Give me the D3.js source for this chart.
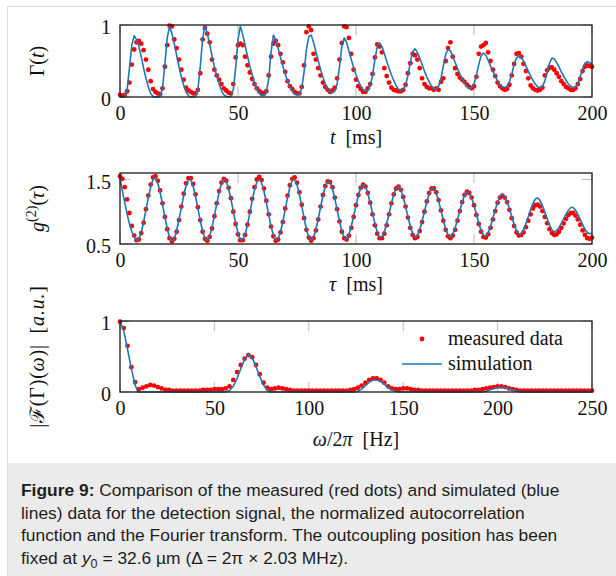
<!DOCTYPE html>
<html>
<head>
<meta charset="utf-8">
<script src="https://cdn.jsdelivr.net/npm/d3@7/dist/d3.min.js"></script>
<style>
  body { margin: 0; background: #fff; }
  svg { display: block; }
  .serif { font-family: "Liberation Serif", "Times New Roman", serif; fill: #111; }
  .cap { font-family: "Liberation Sans", Arial, sans-serif; fill: #1e1e1e; }
</style>
</head>
<body>
<svg id="fig" width="616" height="576"></svg>
<script>
// ---- data ----
// Gamma(t): one sample per ms, t = 0..200
var gammaMeas = [
  0.03, 0.02, 0.03, 0.08, 0.2, 0.45, 0.66, 0.76, 0.78, 0.74,
  0.65, 0.52, 0.38, 0.22, 0.11, 0.07, 0.05, 0.04, 0.12, 0.42,
  0.72, 0.99, 0.98, 0.8, 0.68, 0.52, 0.38, 0.24, 0.13, 0.09,
  0.07, 0.05, 0.05, 0.1, 0.33, 0.8, 0.96, 0.88, 0.76, 0.52,
  0.38, 0.3, 0.24, 0.18, 0.12, 0.09, 0.06, 0.05, 0.18, 0.55,
  0.72, 0.74, 0.72, 0.56, 0.44, 0.34, 0.25, 0.18, 0.12, 0.08,
  0.06, 0.05, 0.08, 0.3, 0.56, 0.74, 0.78, 0.72, 0.6, 0.48,
  0.35, 0.22, 0.15, 0.11, 0.07, 0.05, 0.05, 0.14, 0.44, 0.9,
  0.98, 0.93, 0.6, 0.52, 0.4, 0.3, 0.2, 0.14, 0.1, 0.07,
  0.09, 0.13, 0.26, 0.52, 0.75, 0.98, 0.97, 0.82, 0.6, 0.38,
  0.24, 0.15, 0.11, 0.07, 0.07, 0.12, 0.18, 0.32, 0.55, 0.73,
  0.7, 0.62, 0.4, 0.29, 0.2, 0.13, 0.1, 0.09, 0.08, 0.08,
  0.1, 0.17, 0.33, 0.47, 0.6, 0.58, 0.52, 0.4, 0.26, 0.18,
  0.14, 0.12, 0.12, 0.1, 0.12, 0.1, 0.21, 0.26, 0.5, 0.68,
  0.76, 0.56, 0.4, 0.32, 0.27, 0.24, 0.21, 0.17, 0.14, 0.12,
  0.15, 0.28, 0.6, 0.7, 0.72, 0.75, 0.62, 0.5, 0.38, 0.29,
  0.2, 0.15, 0.12, 0.1, 0.11, 0.17, 0.3, 0.46, 0.6, 0.61,
  0.56, 0.46, 0.36, 0.26, 0.16, 0.12, 0.1, 0.09, 0.1, 0.13,
  0.3, 0.37, 0.41, 0.41, 0.38, 0.33, 0.28, 0.22, 0.18, 0.14,
  0.12, 0.1, 0.1, 0.12, 0.18, 0.25, 0.36, 0.42, 0.44, 0.43,
  0.42
];
var gammaSim = [
  0, 0, 0.01, 0.1, 0.4, 0.72, 0.85, 0.8, 0.7, 0.56,
  0.4, 0.26, 0.14, 0.05, 0.01, 0, 0, 0.01, 0.12, 0.45,
  0.82, 0.98, 0.88, 0.74, 0.58, 0.42, 0.28, 0.16, 0.07, 0.02,
  0, 0, 0.01, 0.1, 0.42, 0.8, 0.99, 0.88, 0.73, 0.57,
  0.42, 0.29, 0.18, 0.09, 0.03, 0.01, 0, 0.01, 0.1, 0.4,
  0.8, 0.98, 0.87, 0.72, 0.57, 0.43, 0.31, 0.2, 0.11, 0.05,
  0.02, 0.02, 0.06, 0.25, 0.62, 0.86, 0.8, 0.68, 0.55, 0.43,
  0.32, 0.22, 0.14, 0.08, 0.04, 0.03, 0.04, 0.12, 0.35, 0.66,
  0.84, 0.86, 0.76, 0.63, 0.5, 0.38, 0.27, 0.18, 0.11, 0.07,
  0.06, 0.08, 0.18, 0.42, 0.7, 0.82, 0.76, 0.64, 0.52, 0.41,
  0.31, 0.22, 0.15, 0.1, 0.08, 0.09, 0.15, 0.3, 0.52, 0.7,
  0.75, 0.7, 0.6, 0.5, 0.4, 0.31, 0.23, 0.16, 0.11, 0.09,
  0.1, 0.16, 0.3, 0.48, 0.63, 0.67, 0.62, 0.54, 0.45, 0.36,
  0.28, 0.21, 0.15, 0.11, 0.11, 0.15, 0.26, 0.43, 0.59, 0.66,
  0.64, 0.57, 0.48, 0.4, 0.32, 0.25, 0.19, 0.14, 0.12, 0.13,
  0.18, 0.3, 0.45, 0.57, 0.61, 0.58, 0.51, 0.43, 0.36, 0.29,
  0.22, 0.17, 0.14, 0.13, 0.15, 0.21, 0.32, 0.45, 0.54, 0.57,
  0.55, 0.5, 0.43, 0.36, 0.29, 0.23, 0.18, 0.14, 0.13, 0.15,
  0.22, 0.34, 0.47, 0.54, 0.53, 0.48, 0.42, 0.35, 0.29, 0.23,
  0.18, 0.15, 0.13, 0.14, 0.19, 0.28, 0.39, 0.47, 0.49, 0.48,
  0.45
];

// g2(tau): one sample per ms, tau = 0..200
var g2Meas = [
  1.55, 1.51, 1.38, 1.19, 0.98, 0.78, 0.63, 0.56, 0.57, 0.67,
  0.83, 1.04, 1.25, 1.42, 1.53, 1.55, 1.48, 1.33, 1.13, 0.92,
  0.73, 0.59, 0.54, 0.58, 0.69, 0.87, 1.08, 1.28, 1.44, 1.52,
  1.52, 1.43, 1.27, 1.07, 0.87, 0.69, 0.58, 0.55, 0.61, 0.74,
  0.93, 1.13, 1.32, 1.45, 1.51, 1.48, 1.37, 1.21, 1.0, 0.81,
  0.65, 0.56, 0.56, 0.64, 0.8, 1.0, 1.2, 1.38, 1.5, 1.54,
  1.49, 1.36, 1.17, 0.96, 0.77, 0.62, 0.55, 0.57, 0.68, 0.84,
  1.05, 1.25, 1.41, 1.51, 1.53, 1.45, 1.3, 1.11, 0.9, 0.72,
  0.6, 0.55, 0.59, 0.71, 0.88, 1.08, 1.26, 1.4, 1.47, 1.46,
  1.38, 1.22, 1.04, 0.85, 0.69, 0.59, 0.57, 0.63, 0.75, 0.92,
  1.1, 1.26, 1.37, 1.42, 1.39, 1.29, 1.14, 0.96, 0.79, 0.66,
  0.59, 0.59, 0.66, 0.79, 0.96, 1.13, 1.27, 1.36, 1.39, 1.34,
  1.23, 1.08, 0.91, 0.75, 0.64, 0.59, 0.61, 0.7, 0.84, 1.0,
  1.16, 1.29, 1.36, 1.36, 1.3, 1.18, 1.02, 0.86, 0.72, 0.62,
  0.59, 0.63, 0.72, 0.86, 1.01, 1.15, 1.26, 1.31, 1.29, 1.22,
  1.1, 0.95, 0.81, 0.69, 0.61, 0.6, 0.65, 0.75, 0.88, 1.01,
  1.14, 1.22, 1.25, 1.22, 1.15, 1.03, 0.9, 0.78, 0.68, 0.63,
  0.64, 0.68, 0.76, 0.86, 0.96, 1.05, 1.1, 1.11, 1.08, 1.01,
  0.92, 0.82, 0.73, 0.67, 0.64, 0.65, 0.69, 0.75, 0.82, 0.89,
  0.95, 0.98, 0.98, 0.94, 0.88, 0.8, 0.71, 0.64, 0.59, 0.58,
  0.6
];
// simulated g2: turning points (tau in ms, value)
var g2SimTau = [0, 7.37, 14.73, 22.1, 29.46, 36.8, 44.19, 51.6, 58.92, 66.3, 73.65, 81,
  88.38, 95.7, 103.11, 110.5, 117.84, 125.2, 132.57, 139.9, 147.3, 154.7, 162.03,
  169.4, 176.76, 184.1, 191.49, 198.9, 200];
var g2SimVal = [1.52, 0.56, 1.52, 0.55, 1.5, 0.56, 1.5, 0.56, 1.5, 0.56, 1.5, 0.56,
  1.47, 0.58, 1.42, 0.6, 1.39, 0.61, 1.36, 0.61, 1.31, 0.62, 1.27,
  0.65, 1.21, 0.69, 1.07, 0.66, 0.67];

// |F(Gamma)(omega)|: one sample per 2 Hz, omega/2pi = 0..250
var fftMeas = [
  0.99, 0.9, 0.65, 0.35, 0.14, 0.04, 0.06, 0.08, 0.1, 0.09,
  0.07, 0.05, 0.03, 0.03, 0.02, 0.02, 0.02, 0.02, 0.02, 0.02,
  0.02, 0.02, 0.03, 0.03, 0.03, 0.04, 0.04, 0.04, 0.05, 0.08,
  0.17, 0.28, 0.38, 0.47, 0.52, 0.49, 0.38, 0.25, 0.13, 0.06,
  0.04, 0.05, 0.06, 0.05, 0.04, 0.03, 0.02, 0.02, 0.02, 0.02,
  0.02, 0.02, 0.02, 0.02, 0.02, 0.02, 0.02, 0.02, 0.02, 0.02,
  0.02, 0.03, 0.04, 0.06, 0.09, 0.13, 0.17, 0.19, 0.19, 0.17,
  0.13, 0.08, 0.05, 0.04, 0.04, 0.05, 0.05, 0.04, 0.03, 0.03,
  0.02, 0.02, 0.02, 0.02, 0.02, 0.02, 0.02, 0.02, 0.02, 0.02,
  0.02, 0.02, 0.02, 0.02, 0.03, 0.03, 0.04, 0.05, 0.06, 0.07,
  0.08, 0.08, 0.07, 0.05, 0.04, 0.03, 0.02, 0.02, 0.02, 0.02,
  0.02, 0.02, 0.02, 0.02, 0.02, 0.02, 0.02, 0.02, 0.02, 0.02,
  0.02, 0.02, 0.02, 0.02, 0.02, 0.02
];
var fftSimW = [0, 2, 4, 6, 8, 9.5, 56, 58, 60, 62, 64, 66, 68, 70, 72, 74, 76, 78, 80,
  124, 126, 128, 130, 132, 134, 136, 138, 140, 142, 144, 146, 148,
  192, 194, 196, 198, 200, 202, 204, 206, 208, 210, 212, 214, 250];
var fftSimVal = [1.0, 0.86, 0.6, 0.33, 0.1, 0, 0, 0.02, 0.08, 0.19, 0.33, 0.46, 0.53, 0.48, 0.36, 0.22, 0.1, 0.02, 0,
  0, 0.01, 0.04, 0.09, 0.14, 0.17, 0.17, 0.15, 0.11, 0.06, 0.03, 0.01, 0,
  0, 0.01, 0.03, 0.05, 0.06, 0.065, 0.06, 0.05, 0.03, 0.015, 0.005, 0, 0];

var xTicksT = [0, 50, 100, 150, 200];
var xTicksW = [0, 50, 100, 150, 200, 250];

var red = '#ff0000', blue = '#1f77b4';
var svg = d3.select('#fig');

// page frame and caption box
svg.append('rect').attr('x', 7.5).attr('y', 6.5).attr('width', 640).attr('height', 600)
  .attr('fill', '#fff').attr('stroke', '#dddddd');
svg.append('rect').attr('x', 8).attr('y', 463).attr('width', 620).attr('height', 120)
  .attr('fill', '#ebebeb');

function panel(o) {
  var x = d3.scaleLinear().domain(o.xDomain).range([120, 592]);
  var y = d3.scaleLinear().domain(o.yDomain).range([o.bottom, o.top]);
  var g = svg.append('g');

  // light grey inner ticks
  o.xTicks.forEach(function(v){
    g.append('line').attr('x1', x(v)).attr('x2', x(v)).attr('y1', o.top).attr('y2', o.top + 10)
      .attr('stroke', '#c4c4c4').attr('stroke-width', 1.2);
    g.append('line').attr('x1', x(v)).attr('x2', x(v)).attr('y1', o.bottom).attr('y2', o.bottom - 10)
      .attr('stroke', '#c4c4c4').attr('stroke-width', 1.2);
  });
  o.yTicks.forEach(function(v){
    g.append('line').attr('x1', 120).attr('x2', 130).attr('y1', y(v)).attr('y2', y(v))
      .attr('stroke', '#c4c4c4').attr('stroke-width', 1.2);
    g.append('line').attr('x1', 592).attr('x2', 582).attr('y1', y(v)).attr('y2', y(v))
      .attr('stroke', '#c4c4c4').attr('stroke-width', 1.2);
  });

  // measured dots
  g.append('g').selectAll('circle').data(o.meas).join('circle')
    .attr('cx', function(d, i){ return x(i * o.step); })
    .attr('cy', function(d){ return y(d); })
    .attr('r', 2.4)
    .attr('fill', red);

  // simulation line
  var line = d3.line()
    .x(function(d){ return x(d[0]); })
    .y(function(d){ return y(d[1]); })
    .curve(o.curve);
  g.append('path').datum(o.sim).attr('d', line)
    .attr('fill', 'none').attr('stroke', blue).attr('stroke-width', 1.6)
    .attr('stroke-linejoin', 'round');

  // box
  g.append('rect').attr('x', 120).attr('y', o.top).attr('width', 472).attr('height', o.bottom - o.top)
    .attr('fill', 'none').attr('stroke', '#1a1a1a').attr('stroke-width', 1.3);

  // tick labels
  var ax = g.append('g').attr('class', 'serif')
    .attr('transform', 'translate(0,' + (o.bottom + 16) + ')')
    .call(d3.axisBottom(x).tickValues(o.xTicks).tickSize(0).tickPadding(0).tickFormat(d3.format('d')));
  ax.select('.domain').remove();
  ax.attr('font-family', null).attr('font-size', 20);
  ax.selectAll('text').attr('y', 0).attr('dy', '0.34em').attr('fill', '#111');

  var ay = g.append('g').attr('class', 'serif')
    .attr('transform', 'translate(111,2)')
    .call(d3.axisLeft(y).tickValues(o.yLabels).tickSize(0).tickPadding(0).tickFormat(o.yFormat));
  ay.select('.domain').remove();
  ay.attr('font-family', null).attr('font-size', 20);
  ay.selectAll('text').attr('x', 0).attr('dy', '0.34em').attr('fill', '#111');

  // axis titles
  var xl = g.append('text').attr('class', 'serif').attr('font-size', 20)
    .attr('x', 356).attr('y', o.xTitleY).attr('text-anchor', 'middle');
  o.xTitle.forEach(function(p){ xl.append('tspan').attr('font-style', p[1] ? 'italic' : null).text(p[0]); });

  var yl = g.append('text').attr('class', 'serif').attr('font-size', 20)
    .attr('text-anchor', 'middle').attr('letter-spacing', o.ySpacing || 0)
    .attr('transform', 'translate(44,' + ((o.top + o.bottom) / 2) + ') rotate(-90)');
  o.yTitle.forEach(function(p){
    var t = yl.append('tspan').attr('font-style', p[1] ? 'italic' : null).text(p[0]);
    if (p[2]) t.attr('font-size', p[2]);
    if (p[3]) t.attr('dy', p[3]);
  });
  return {x: x, y: y, g: g};
}

var toPairs = function(xs, ys){ return xs.map(function(v, i){ return [v, ys[i]]; }); };

panel({
  xDomain: [0, 200], yDomain: [0, 1], top: 25, bottom: 97,
  xTicks: xTicksT, yTicks: [0, 1], yLabels: [0, 1], yFormat: d3.format('d'),
  meas: gammaMeas, step: 1,
  sim: gammaSim.map(function(v, i){ return [i, v]; }), curve: d3.curveLinear,
  xTitleY: 144, xTitle: [['t', 1], ['\u2002[ms]', 0]],
  yTitle: [['\u0393(', 0], ['t', 1], [')', 0]]
});

panel({
  xDomain: [0, 200], yDomain: [0.5, 1.6], top: 173, bottom: 244,
  xTicks: xTicksT, yTicks: [0.5, 1.5], yLabels: [0.5, 1.5], yFormat: d3.format('.1f'),
  meas: g2Meas, step: 1,
  sim: toPairs(g2SimTau, g2SimVal), curve: d3.curveMonotoneX,
  xTitleY: 291, xTitle: [['\u03c4', 1], ['\u2002[ms]', 0]],
  yTitle: [['g', 1], ['(2)', 0, 14, -8], ['(', 0, null, 8], ['\u03c4', 1], [')', 0]]
});

var p3 = panel({
  xDomain: [0, 250], yDomain: [0, 1], top: 321, bottom: 392,
  xTicks: xTicksW, yTicks: [0, 1], yLabels: [0, 1], yFormat: d3.format('d'),
  meas: fftMeas, step: 2,
  sim: toPairs(fftSimW, fftSimVal), curve: d3.curveLinear,
  xTitleY: 446, xTitle: [['\u03c9', 1], ['/2', 0], ['\u03c0', 1], ['\u2002[Hz]', 0]],
  ySpacing: 0.8,
  yTitle: [['|', 0], ['\u2131', 0], ['(\u0393)(', 0], ['\u03c9', 1], [')|\u2002[', 0], ['a.u.', 1], [']', 0]]
});

// legend
var lg = p3.g.append('g').attr('class', 'serif').attr('font-size', 20);
lg.append('circle').attr('cx', 422).attr('cy', 339).attr('r', 2.4).attr('fill', red);
lg.append('text').attr('x', 448).attr('y', 345).text('measured data');
lg.append('line').attr('x1', 402).attr('x2', 442).attr('y1', 364).attr('y2', 364)
  .attr('stroke', blue).attr('stroke-width', 1.6);
lg.append('text').attr('x', 448).attr('y', 370).text('simulation');

// caption
var capLines = [
  [['Figure 9:', 'b'], [' Comparison of the measured (red dots) and simulated (blue', '']],
  [['lines) data for the detection signal, the normalized autocorrelation', '']],
  [['function and the Fourier transform. The outcoupling position has been', '']],
  [['fixed at ', ''], ['y', 'i'], ['0', 's'], [' = 32.6 \u00b5m (\u0394 = 2\u03c0 \u00d7 2.03 MHz).', 'e']]
];
var cap = svg.append('g').attr('class', 'cap').attr('font-size', 17.4);
capLines.forEach(function(parts, k){
  var t = cap.append('text').attr('x', 21).attr('y', 496 + k * 22.5).attr('xml:space', 'preserve');
  parts.forEach(function(p){
    var s = t.append('tspan').text(p[0]);
    if (p[1] === 'b') s.attr('font-weight', 'bold');
    if (p[1] === 'i') s.attr('font-style', 'italic');
    if (p[1] === 's') s.attr('font-size', 12.5).attr('dy', 4);
    if (p[1] === 'e') s.attr('dy', -4);
  });
});
</script>
</body>
</html>
